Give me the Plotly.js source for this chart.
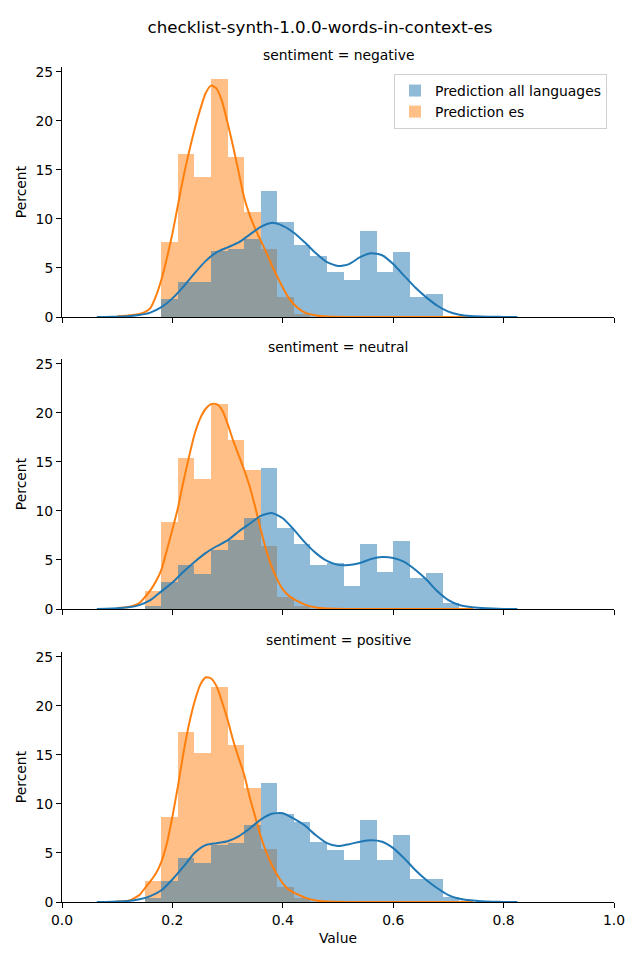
<!DOCTYPE html>
<html>
<head>
<meta charset="utf-8">
<script src="https://cdn.plot.ly/plotly-3.0.1.min.js"></script>
<style>html,body{margin:0;padding:0;background:#fff;}#chart{width:640px;height:960px;}</style>
</head>
<body>
<div id="chart"></div>
<script>
// ---------- data ----------
const panelTitles = ["sentiment = negative", "sentiment = neutral", "sentiment = positive"];
const seriesNames = ["Prediction all languages", "Prediction es"];
const binLefts = [0.15, 0.18, 0.21, 0.24, 0.27, 0.30, 0.33, 0.36, 0.39, 0.42, 0.45, 0.48, 0.51, 0.54, 0.57, 0.60, 0.63, 0.66, 0.69];
const binWidth = 0.03;

// histogram percents (19 bins)
const allNegative = [0, 1.84, 3.57, 3.57, 6.73, 6.9, 7.96, 12.86, 9.73, 7.35, 6.22, 4.63, 3.77, 8.78, 4.63, 6.6, 2.04, 2.35, 0];
const esNegative  = [0, 7.65, 16.6, 14.3, 24.3, 16.3, 10.7, 6.9, 2.0, 0.35, 0, 0, 0, 0, 0, 0, 0, 0, 0];
const allNeutral  = [0.3, 2.76, 4.49, 3.57, 6.02, 7.04, 9.29, 14.4, 8.27, 6.63, 4.5, 4.66, 2.35, 6.63, 3.78, 6.94, 3.16, 3.67, 0.61];
const esNeutral   = [1.84, 8.88, 15.4, 13.27, 20.95, 17.24, 14.18, 6.43, 1.22, 0.3, 0, 0, 0, 0, 0, 0, 0, 0, 0];
const allPositive = [0.44, 2.14, 4.49, 3.98, 5.82, 6.02, 7.86, 12.14, 9.0, 8.13, 6.12, 5.3, 4.29, 8.37, 4.29, 6.84, 2.35, 2.35, 0.51];
const esPositive  = [2.14, 8.67, 17.35, 15.2, 21.94, 16.0, 11.6, 5.4, 1.53, 0.44, 0, 0, 0, 0, 0, 0, 0, 0, 0];

// KDE curves
const kdeEsX = [0.10, 0.12, 0.14, 0.15, 0.16, 0.17, 0.18, 0.19, 0.20, 0.21, 0.22, 0.23, 0.24, 0.25, 0.26, 0.27, 0.28, 0.29, 0.30, 0.31, 0.32, 0.33, 0.34, 0.35, 0.36, 0.37, 0.38, 0.39, 0.40, 0.41, 0.42, 0.43, 0.44, 0.46, 0.48, 0.52, 0.60, 0.745];
const kdeEsNegative = [0.08, 0.15, 0.3, 0.5, 0.9, 2.1, 3.8, 6.0, 8.5, 11.4, 14.3, 16.8, 19.1, 21.1, 22.8, 23.6, 23.3, 22.0, 19.8, 17.4, 14.8, 12.2, 10.4, 9.0, 7.8, 6.6, 5.3, 4.1, 3.0, 2.0, 1.3, 0.8, 0.45, 0.15, 0.04, 0.01, 0, 0];
const kdeEsNeutral  = [0.1, 0.2, 0.6, 1.2, 1.9, 2.8, 4.0, 6.0, 8.1, 10.3, 13.0, 15.5, 17.8, 19.4, 20.4, 20.9, 20.9, 20.3, 18.9, 17.2, 15.7, 14.2, 12.5, 10.4, 8.1, 6.0, 4.3, 3.0, 2.0, 1.4, 1.0, 0.7, 0.45, 0.15, 0.05, 0.01, 0, 0];
const kdeEsPositive = [0.05, 0.12, 0.7, 1.4, 2.1, 2.9, 4.1, 6.0, 8.7, 11.8, 15.2, 18.1, 20.4, 22.1, 22.9, 22.8, 22.0, 20.4, 18.6, 16.5, 14.7, 13.0, 10.7, 8.7, 6.7, 5.1, 3.8, 2.75, 1.9, 1.3, 0.95, 0.7, 0.45, 0.15, 0.05, 0.01, 0, 0];

const kdeAllX = [0.063, 0.08, 0.10, 0.12, 0.14, 0.16, 0.18, 0.20, 0.22, 0.24, 0.26, 0.28, 0.30, 0.32, 0.34, 0.36, 0.38, 0.40, 0.42, 0.44, 0.46, 0.48, 0.50, 0.52, 0.54, 0.56, 0.58, 0.60, 0.62, 0.64, 0.66, 0.68, 0.70, 0.72, 0.74, 0.76, 0.78, 0.80, 0.825];
const kdeAllNegative = [0, 0.01, 0.03, 0.08, 0.2, 0.45, 1.0, 1.9, 3.1, 4.45, 5.7, 6.6, 7.1, 7.6, 8.4, 9.2, 9.6, 9.3, 8.6, 7.6, 6.5, 5.6, 5.2, 5.4, 6.1, 6.5, 6.3, 5.4, 4.2, 3.0, 2.0, 1.15, 0.55, 0.24, 0.1, 0.05, 0.02, 0.01, 0];
const kdeAllNeutral  = [0, 0.02, 0.07, 0.17, 0.4, 0.9, 1.8, 2.7, 3.8, 4.8, 5.7, 6.4, 7.0, 7.9, 8.7, 9.5, 9.8, 9.25, 8.1, 6.8, 5.7, 4.9, 4.5, 4.5, 4.7, 5.1, 5.3, 5.2, 4.8, 4.0, 3.0, 1.8, 0.9, 0.4, 0.2, 0.1, 0.04, 0.01, 0];
const kdeAllPositive = [0, 0.01, 0.04, 0.1, 0.27, 0.6, 1.2, 2.3, 3.6, 5.0, 5.8, 6.0, 6.2, 6.7, 7.5, 8.4, 9.0, 9.05, 8.5, 7.8, 6.8, 6.0, 5.7, 5.9, 6.15, 6.3, 6.15, 5.5, 4.45, 3.27, 2.24, 1.4, 0.71, 0.34, 0.17, 0.07, 0.03, 0.01, 0];

const xTicks = [0.0, 0.2, 0.4, 0.6, 0.8, 1.0];
const xTickLabels = ["0.0", "0.2", "0.4", "0.6", "0.8", "1.0"];
const yTicks = [0, 5, 10, 15, 20, 25];

// ---------- build ----------
const BLUE = "#1f77b4", ORANGE = "#ff7f0e";
const FONT = "DejaVu Sans, Liberation Sans, sans-serif";
const histAll = [allNegative, allNeutral, allPositive];
const histEs = [esNegative, esNeutral, esPositive];
const kdeAll = [kdeAllNegative, kdeAllNeutral, kdeAllPositive];
const kdeEs = [kdeEsNegative, kdeEsNeutral, kdeEsPositive];

// pixel geometry: plot area 62..614 x, panels 250px tall
const H = 960, W = 640, mT = 67, mB = 58;
const plotH = H - mT - mB;
const panelTops = [67, 359, 652];
const panelH = 250;
const domains = panelTops.map(t => [(H - mB - (t + panelH)) / plotH, (H - mB - t) / plotH]);

const traces = [];
const layout = {
  width: W, height: H,
  margin: {l: 62, r: 26, t: mT, b: mB},
  paper_bgcolor: "#fff", plot_bgcolor: "#fff",
  font: {family: FONT, size: 13.9, color: "#000"},
  showlegend: true,
  barmode: "overlay", bargap: 0,
  title: {text: "checklist-synth-1.0.0-words-in-context-es", x: 0.5, xanchor: "center",
          y: 1 - 27 / H, yanchor: "middle", font: {family: FONT, size: 16.7, color: "#000"}},
  legend: {x: (607 - 62) / 552, xanchor: "right", y: (H - mB - 74) / plotH, yanchor: "top",
           bgcolor: "rgba(255,255,255,0.8)", bordercolor: "#d0d0d0", borderwidth: 1,
           font: {family: FONT, size: 13.9, color: "#000"}, tracegroupgap: 0, itemwidth: 30},
  annotations: []
};

for (let i = 0; i < 3; i++) {
  const sx = i === 0 ? "" : String(i + 1);
  const xa = "x" + sx, ya = "y" + sx;
  // orange bars first, then blue on top
  traces.push({type: "bar", x: binLefts, y: histEs[i], width: binWidth, offset: 0,
    xaxis: xa, yaxis: ya, name: seriesNames[1], legendgroup: "es", legendrank: 2,
    showlegend: i === 0, marker: {color: "rgba(255,127,14,0.5)", line: {width: 0}}, hoverinfo: "skip"});
  traces.push({type: "bar", x: binLefts, y: histAll[i], width: binWidth, offset: 0,
    xaxis: xa, yaxis: ya, name: seriesNames[0], legendgroup: "all", legendrank: 1,
    showlegend: i === 0, marker: {color: "rgba(31,119,180,0.5)", line: {width: 0}}, hoverinfo: "skip"});
  traces.push({type: "scatter", mode: "lines", x: kdeEsX, y: kdeEs[i], xaxis: xa, yaxis: ya,
    line: {color: ORANGE, width: 2, shape: "spline", smoothing: 0.6}, showlegend: false, hoverinfo: "skip"});
  traces.push({type: "scatter", mode: "lines", x: kdeAllX, y: kdeAll[i], xaxis: xa, yaxis: ya,
    line: {color: BLUE, width: 2, shape: "spline", smoothing: 0.6}, showlegend: false, hoverinfo: "skip"});

  layout["xaxis" + sx] = {
    domain: [0, 1], anchor: ya, range: [0, 1], tickmode: "array", tickvals: xTicks, ticktext: xTickLabels,
    showticklabels: i === 2, ticks: "outside", ticklen: 5, tickwidth: 1, tickcolor: "#000",
    showline: true, linecolor: "#000", linewidth: 1, showgrid: false, zeroline: false,
    tickfont: {family: FONT, size: 13.9, color: "#000"}, fixedrange: true,
    title: i === 2 ? {text: "Value", font: {family: FONT, size: 13.9, color: "#000"}, standoff: 6} : {text: ""}
  };
  layout["yaxis" + sx] = {
    domain: domains[i], anchor: xa, range: [0, 25.5], tickmode: "array", tickvals: yTicks,
    ticks: "outside", ticklen: 5, tickwidth: 1, tickcolor: "#000",
    showline: true, linecolor: "#000", linewidth: 1, showgrid: false, zeroline: false,
    tickfont: {family: FONT, size: 13.9, color: "#000"}, fixedrange: true,
    title: {text: "Percent", font: {family: FONT, size: 13.9, color: "#000"}, standoff: 5}
  };
  layout.annotations.push({text: panelTitles[i], xref: "paper", yref: "paper", x: 0.5, xanchor: "center",
    y: domains[i][1], yanchor: "bottom", yshift: 2, showarrow: false,
    font: {family: FONT, size: 13.9, color: "#000"}});
}

Plotly.newPlot("chart", traces, layout, {staticPlot: true, displayModeBar: false});
</script>
</body>
</html>
